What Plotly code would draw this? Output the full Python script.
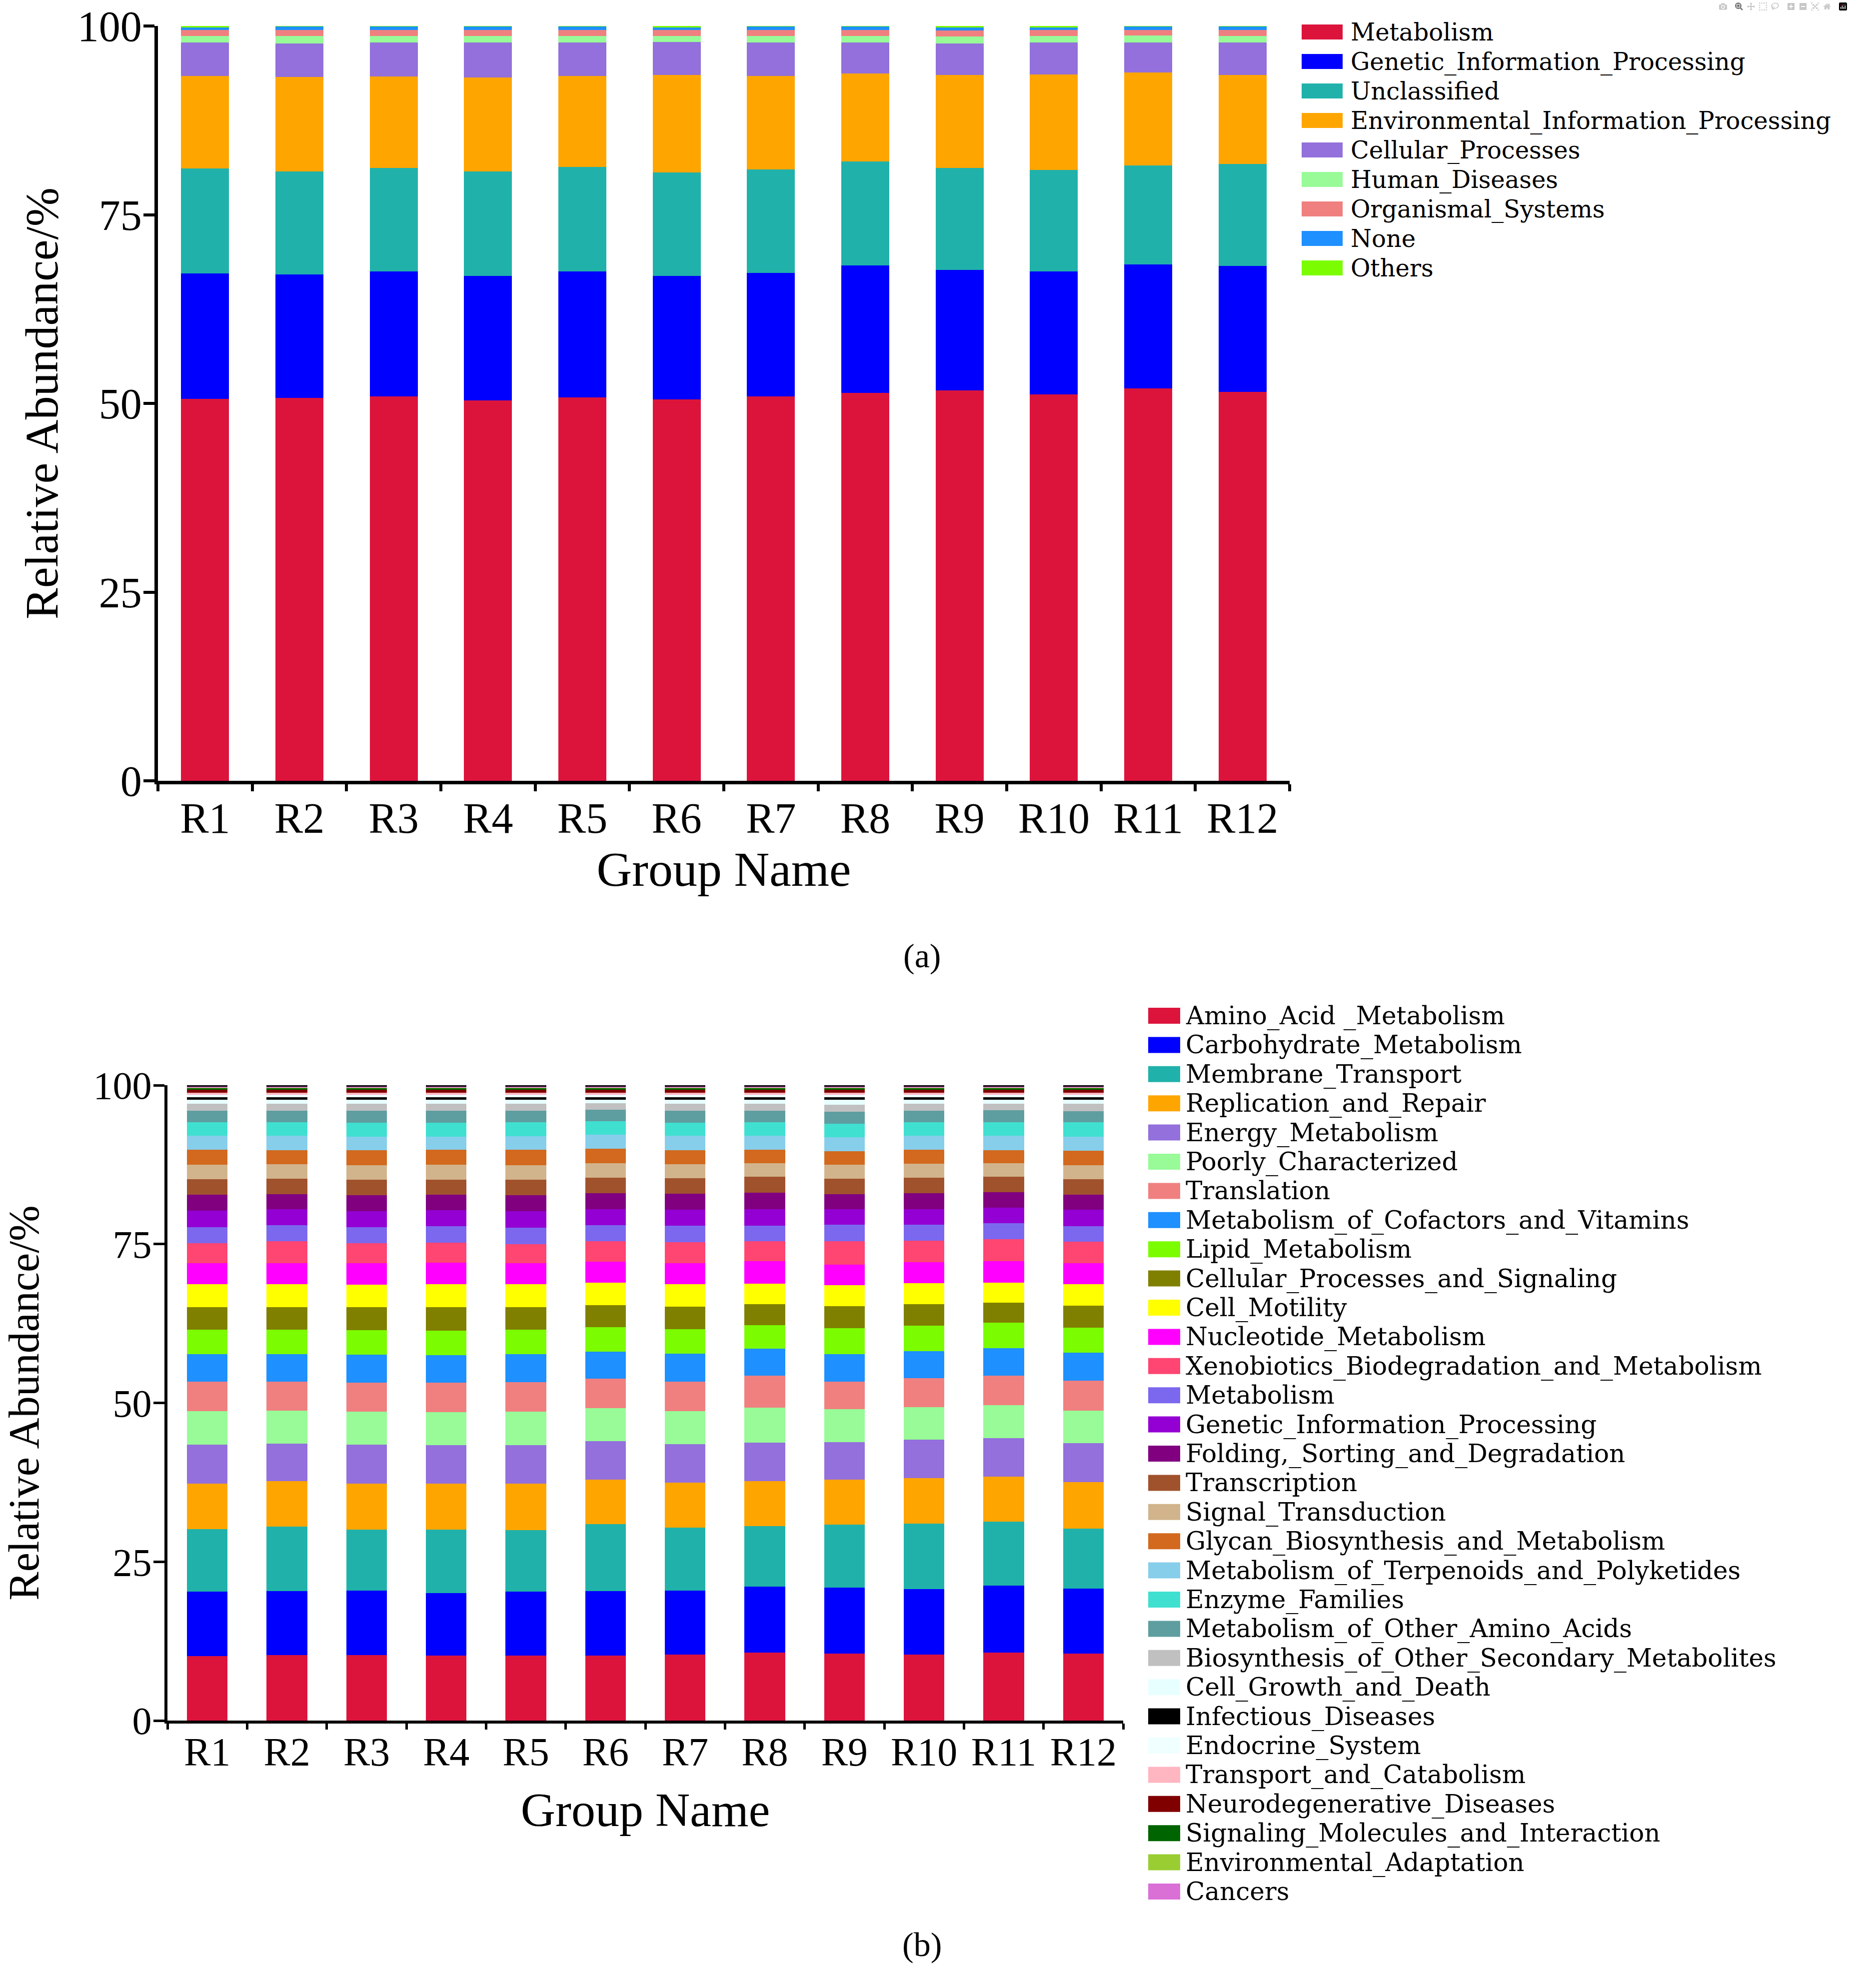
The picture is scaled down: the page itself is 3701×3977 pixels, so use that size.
import plotly.graph_objects as go

# ---------------- data ----------------
groups = ["R1", "R2", "R3", "R4", "R5", "R6", "R7", "R8", "R9", "R10", "R11", "R12"]
y_ticks = [0, 25, 50, 75, 100]

# Panel (a): level-1 KEGG categories (relative abundance, %)
a_categories = ["Metabolism", "Genetic_Information_Processing", "Unclassified",
                "Environmental_Information_Processing", "Cellular_Processes",
                "Human_Diseases", "Organismal_Systems", "None", "Others"]
a_metabolism = [50.6, 50.7, 50.9, 50.4, 50.8, 50.55, 50.9, 51.4, 51.7, 51.2, 51.96, 51.55]
a_genetic = [16.6, 16.4, 16.6, 16.5, 16.7, 16.35, 16.4, 16.9, 16.0, 16.3, 16.44, 16.65]
a_unclassified = [13.9, 13.6, 13.7, 13.8, 13.8, 13.7, 13.7, 13.75, 13.5, 13.45, 13.1, 13.5]
a_environmental = [12.3, 12.56, 12.1, 12.5, 12.1, 12.9, 12.4, 11.65, 12.3, 12.65, 12.35, 11.8]
a_cellular = [4.4, 4.44, 4.5, 4.6, 4.4, 4.4, 4.4, 4.1, 4.2, 4.2, 3.95, 4.3]
a_human = [0.9, 1.0, 0.9, 0.9, 0.9, 0.8, 0.86, 0.9, 0.9, 0.9, 0.95, 0.9]
a_organismal = [0.75, 0.8, 0.8, 0.8, 0.8, 0.75, 0.84, 0.8, 0.8, 0.75, 0.75, 0.8]
a_none = [0.38, 0.47, 0.47, 0.47, 0.47, 0.35, 0.47, 0.47, 0.4, 0.37, 0.47, 0.47]
a_others = [0.17, 0.03, 0.03, 0.03, 0.03, 0.2, 0.03, 0.03, 0.2, 0.18, 0.03, 0.03]
a_values = [a_metabolism, a_genetic, a_unclassified, a_environmental, a_cellular,
            a_human, a_organismal, a_none, a_others]
a_colors = ["#DC143C", "#0000FF", "#20B2AA", "#FFA500", "#9370DB",
            "#98FB98", "#F08080", "#1E90FF", "#7CFC00"]

# Panel (b): level-2 KEGG pathways (relative abundance, %)
b_categories = ["Amino_Acid _Metabolism", "Carbohydrate_Metabolism", "Membrane_Transport",
                "Replication_and_Repair", "Energy_Metabolism", "Poorly_Characterized",
                "Translation", "Metabolism_of_Cofactors_and_Vitamins", "Lipid_Metabolism",
                "Cellular_Processes_and_Signaling", "Cell_Motility", "Nucleotide_Metabolism",
                "Xenobiotics_Biodegradation_and_Metabolism", "Metabolism",
                "Genetic_Information_Processing", "Folding,_Sorting_and_Degradation",
                "Transcription", "Signal_Transduction", "Glycan_Biosynthesis_and_Metabolism",
                "Metabolism_of_Terpenoids_and_Polyketides", "Enzyme_Families",
                "Metabolism_of_Other_Amino_Acids", "Biosynthesis_of_Other_Secondary_Metabolites",
                "Cell_Growth_and_Death", "Infectious_Diseases", "Endocrine_System",
                "Transport_and_Catabolism", "Neurodegenerative_Diseases",
                "Signaling_Molecules_and_Interaction", "Environmental_Adaptation", "Cancers"]
b_amino_acid = [10.18, 10.32, 10.28, 10.21, 10.21, 10.25, 10.39, 10.70, 10.56, 10.42, 10.70, 10.53]
b_carbohydrate = [10.10, 10.07, 10.14, 9.86, 10.07, 10.14, 10.03, 10.39, 10.35, 10.28, 10.53, 10.24]
b_membrane = [9.83, 10.14, 9.65, 10.00, 9.72, 10.52, 9.93, 9.54, 9.97, 10.32, 10.10, 9.48]
b_replication = [7.22, 7.12, 7.23, 7.23, 7.26, 7.05, 7.12, 7.02, 7.05, 7.12, 7.06, 7.26]
b_energy = [6.07, 5.96, 6.14, 6.07, 6.11, 6.04, 6.07, 6.10, 5.93, 6.04, 6.03, 6.14]
b_poorly = [5.27, 5.16, 5.16, 5.16, 5.23, 5.19, 5.16, 5.48, 5.12, 5.12, 5.19, 5.16]
b_translation = [4.65, 4.55, 4.62, 4.62, 4.69, 4.59, 4.66, 5.04, 4.38, 4.58, 4.66, 4.69]
b_cofactors = [4.37, 4.37, 4.37, 4.37, 4.40, 4.26, 4.40, 4.26, 4.30, 4.30, 4.33, 4.37]
b_lipid = [3.85, 3.85, 3.88, 3.84, 3.85, 3.88, 3.88, 3.71, 4.09, 3.95, 3.99, 3.95]
b_cell_proc = [3.56, 3.56, 3.56, 3.67, 3.56, 3.50, 3.53, 3.32, 3.49, 3.43, 3.21, 3.46]
b_motility = [3.61, 3.61, 3.61, 3.68, 3.61, 3.53, 3.54, 3.22, 3.29, 3.32, 3.12, 3.43]
b_nucleotide = [3.32, 3.32, 3.32, 3.39, 3.32, 3.29, 3.32, 3.49, 3.25, 3.29, 3.35, 3.32]
b_xenobiotics = [3.11, 3.39, 3.14, 3.14, 2.97, 3.18, 3.28, 3.15, 3.71, 3.35, 3.50, 3.32]
b_metabolism = [2.55, 2.52, 2.56, 2.56, 2.59, 2.55, 2.56, 2.48, 2.55, 2.56, 2.48, 2.48]
b_genetic = [2.55, 2.55, 2.51, 2.55, 2.58, 2.55, 2.55, 2.62, 2.45, 2.44, 2.45, 2.55]
b_folding = [2.52, 2.38, 2.52, 2.45, 2.52, 2.45, 2.48, 2.59, 2.34, 2.45, 2.45, 2.42]
b_transcription = [2.45, 2.44, 2.45, 2.34, 2.45, 2.45, 2.45, 2.48, 2.45, 2.45, 2.44, 2.44]
b_signal = [2.31, 2.28, 2.24, 2.38, 2.27, 2.27, 2.24, 2.10, 2.24, 2.24, 2.10, 2.17]
b_glycan = [2.34, 2.20, 2.38, 2.31, 2.42, 2.28, 2.20, 2.14, 2.10, 2.17, 2.07, 2.28]
b_terpenoids = [2.20, 2.24, 2.16, 2.09, 2.16, 2.23, 2.27, 2.23, 2.23, 2.23, 2.30, 2.20]
b_enzyme = [2.10, 2.13, 2.21, 2.21, 2.17, 2.10, 2.07, 2.10, 2.10, 2.10, 2.10, 2.27]
b_other_amino = [1.82, 1.82, 1.85, 1.85, 1.82, 1.82, 1.85, 1.82, 1.85, 1.82, 1.89, 1.75]
b_biosynthesis = [1.12, 1.12, 1.12, 1.12, 1.12, 1.08, 1.12, 1.12, 1.12, 1.12, 1.05, 1.19]
b_cell_growth = [0.58, 0.58, 0.58, 0.58, 0.58, 0.48, 0.58, 0.58, 0.76, 0.58, 0.58, 0.58]
b_infectious = [0.47, 0.47, 0.47, 0.47, 0.47, 0.47, 0.47, 0.47, 0.47, 0.47, 0.47, 0.47]
b_endocrine = [0.39, 0.39, 0.39, 0.39, 0.39, 0.39, 0.39, 0.39, 0.39, 0.39, 0.39, 0.39]
b_transport = [0.31, 0.31, 0.31, 0.31, 0.31, 0.31, 0.31, 0.31, 0.31, 0.31, 0.31, 0.31]
b_neuro = [0.42, 0.42, 0.42, 0.42, 0.42, 0.42, 0.42, 0.42, 0.42, 0.42, 0.42, 0.42]
b_signaling = [0.26, 0.26, 0.26, 0.26, 0.26, 0.26, 0.26, 0.26, 0.26, 0.26, 0.26, 0.26]
b_env_adapt = [0.08, 0.08, 0.08, 0.08, 0.08, 0.08, 0.08, 0.08, 0.08, 0.08, 0.08, 0.08]
b_cancers = [0.12, 0.12, 0.12, 0.12, 0.12, 0.12, 0.12, 0.12, 0.12, 0.12, 0.12, 0.12]
b_unlisted = [0.27, 0.27, 0.27, 0.27, 0.27, 0.27, 0.27, 0.27, 0.27, 0.27, 0.27, 0.27]
b_values = [b_amino_acid, b_carbohydrate, b_membrane, b_replication, b_energy, b_poorly,
            b_translation, b_cofactors, b_lipid, b_cell_proc, b_motility, b_nucleotide,
            b_xenobiotics, b_metabolism, b_genetic, b_folding, b_transcription, b_signal,
            b_glycan, b_terpenoids, b_enzyme, b_other_amino, b_biosynthesis, b_cell_growth,
            b_infectious, b_endocrine, b_transport, b_neuro, b_signaling, b_env_adapt, b_cancers]
b_colors = ["#DC143C", "#0000FF", "#20B2AA", "#FFA500", "#9370DB", "#98FB98", "#F08080",
            "#1E90FF", "#7CFC00", "#808000", "#FFFF00", "#FF00FF", "#FF4571", "#7B68EE",
            "#9400D3", "#800080", "#A0522D", "#D2B48C", "#D2691E", "#87CEEB", "#40E0D0",
            "#5F9EA0", "#C0C0C0", "#E8FFFF", "#000000", "#F0FFFF", "#FFB6C1", "#800000",
            "#006400", "#9ACD32", "#DA70D6"]

# ---------------- layout helpers ----------------
W, H = 3701, 3977
def px(x):
    return x / W
def py(y):
    return 1 - y / H

SERIF = "Liberation Serif"
LEG_FONT = "DejaVu Serif"

fig = go.Figure()

for name, vals, col in zip(a_categories, a_values, a_colors):
    fig.add_trace(go.Bar(x=groups, y=vals, name=name, marker=dict(color=col, line=dict(width=0)),
                         xaxis="x", yaxis="y", showlegend=False))

for name, vals, col in zip(b_categories, b_values, b_colors):
    fig.add_trace(go.Bar(x=groups, y=vals, name=name, marker=dict(color=col, line=dict(width=0)),
                         xaxis="x2", yaxis="y2", showlegend=False))
fig.add_trace(go.Bar(x=groups, y=b_unlisted, name="unlisted", marker=dict(color="#000000", line=dict(width=0)),
                     xaxis="x2", yaxis="y2", showlegend=False))

shapes = []
annotations = []

# legend (a)
for i, (name, col) in enumerate(zip(a_categories, a_colors)):
    yc = 64 + 59 * i
    shapes.append(dict(type="rect", xref="paper", yref="paper",
                       x0=px(2604), x1=px(2686), y0=py(yc + 15), y1=py(yc - 15),
                       fillcolor=col, line=dict(width=0)))
    annotations.append(dict(text=name, xref="paper", yref="paper", x=px(2700), y=py(yc),
                            xanchor="left", yanchor="middle", showarrow=False,
                            font=dict(family=LEG_FONT, size=48, color="black")))

# legend (b)
for i, (name, col) in enumerate(zip(b_categories, b_colors)):
    yc = 2032 + 58.4 * i
    shapes.append(dict(type="rect", xref="paper", yref="paper",
                       x0=px(2297), x1=px(2361), y0=py(yc + 16), y1=py(yc - 16),
                       fillcolor=col, line=dict(width=0)))
    annotations.append(dict(text=name, xref="paper", yref="paper", x=px(2370), y=py(yc),
                            xanchor="left", yanchor="middle", showarrow=False,
                            font=dict(family=LEG_FONT, size=50, color="black")))

annotations.append(dict(text="(a)", xref="paper", yref="paper", x=px(1844), y=py(1912),
                        xanchor="center", yanchor="middle", showarrow=False,
                        font=dict(family=SERIF, size=68, color="black")))
annotations.append(dict(text="(b)", xref="paper", yref="paper", x=px(1844), y=py(3890),
                        xanchor="center", yanchor="middle", showarrow=False,
                        font=dict(family=SERIF, size=68, color="black")))

xcommon = dict(type="category", showline=True, linecolor="black", ticks="outside",
               tickson="boundaries", tickcolor="black", showgrid=False, zeroline=False,
               automargin=False)
ycommon = dict(range=[0, 100], tickvals=y_ticks, showline=True, linecolor="black",
               ticks="outside", tickcolor="black", showgrid=False, zeroline=False,
               automargin=False)

fig.update_layout(
    width=W, height=H,
    margin=dict(l=0, r=0, t=0, b=0, pad=0, autoexpand=False),
    paper_bgcolor="white", plot_bgcolor="white",
    barmode="stack", bargap=0.49,
    showlegend=False,
    font=dict(family=SERIF, color="black"),
    xaxis=dict(xcommon, domain=[px(316), px(2580)], anchor="y", linewidth=7, tickwidth=6, ticklen=14,
               tickfont=dict(family=SERIF, size=86), ticklabelstandoff=-6,
               title=dict(text="Group Name", font=dict(family=SERIF, size=98), standoff=0)),
    yaxis=dict(ycommon, domain=[py(1562), py(52)], anchor="x", linewidth=7, tickwidth=6, ticklen=22,
               tickfont=dict(family=SERIF, size=86), ticklabelstandoff=-14,
               title=dict(text="Relative Abundance/%", font=dict(family=SERIF, size=94), standoff=10)),
    xaxis2=dict(xcommon, domain=[px(335), px(2247)], anchor="y2", linewidth=6, tickwidth=5, ticklen=12,
                tickfont=dict(family=SERIF, size=80), ticklabelstandoff=-12,
                title=dict(text="Group Name", font=dict(family=SERIF, size=96), standoff=40)),
    yaxis2=dict(ycommon, domain=[py(3442), py(2171)], anchor="x2", linewidth=6, tickwidth=5, ticklen=22,
                tickfont=dict(family=SERIF, size=78), ticklabelstandoff=-12,
                title=dict(text="Relative Abundance/%", font=dict(family=SERIF, size=86), standoff=82)),
    shapes=shapes,
    annotations=annotations,
)

fig.write_html("out.html", post_script="document.body.style.margin='0';")
